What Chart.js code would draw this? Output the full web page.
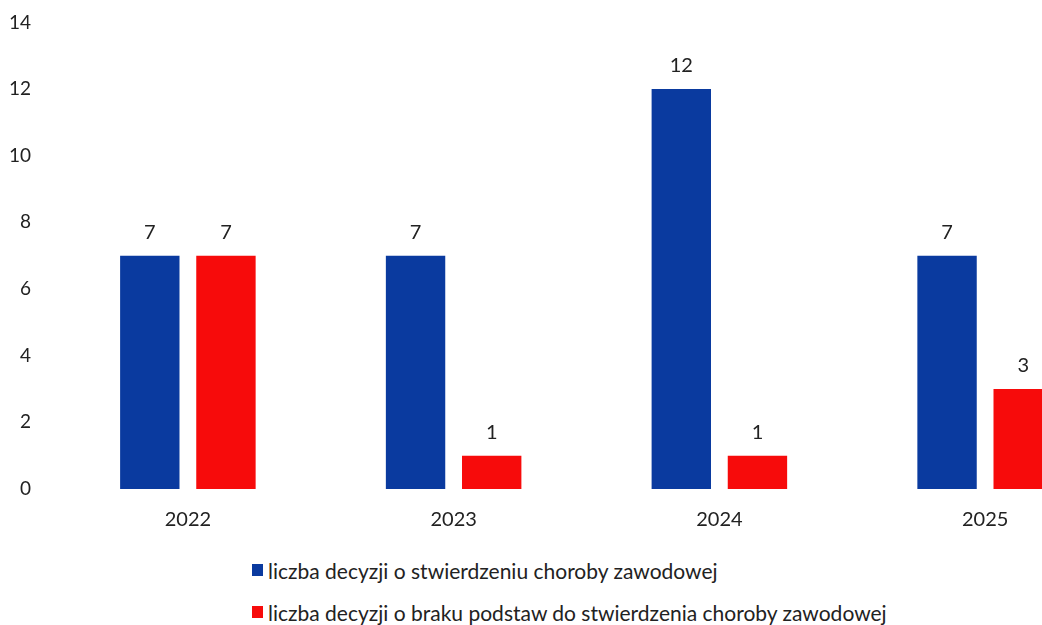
<!DOCTYPE html>
<html lang="pl">
<head>
<meta charset="utf-8">
<title>Decyzje w sprawie chorób zawodowych</title>
<script src="https://cdn.jsdelivr.net/npm/chart.js@4/dist/chart.umd.min.js"></script>
<style>
    html, body {
        margin: 0;
        padding: 0;
        background: #ffffff;
        overflow: hidden;
        width: 1042px;
        height: 625px;
    }
    #wrap {
        position: absolute;
        left: 0;
        top: -13px;
        width: 1118px;
        height: 558px;
    }
    #legend {
        position: absolute;
        left: 252px;
        top: 549px;
        font-family: Lato, "Open Sans", sans-serif;
        font-size: 21px;
        color: #222222;
    }
    .legend-row {
        display: flex;
        align-items: center;
        height: 42px;
        white-space: nowrap;
    }
    .legend-box {
        width: 11px;
        height: 12px;
        margin-right: 5px;
    }
</style>
</head>
<body>
<div id="wrap"><canvas id="chart"></canvas></div>
<div id="legend"></div>
<script>
const years = ['2022', '2023', '2024', '2025'];
const confirmedLabel = 'liczba decyzji o stwierdzeniu choroby zawodowej';
const rejectedLabel = 'liczba decyzji o braku podstaw do stwierdzenia choroby zawodowej';
const confirmed = [7, 7, 12, 7];
const rejected = [7, 1, 1, 3];
const yTicks = [0, 2, 4, 6, 8, 10, 12, 14];

const blue = '#0a3a9f';
const red = '#f70b0b';
const fontFamily = 'Lato, "Open Sans", sans-serif';

// values above the bars
const valueLabels = {
    id: 'valueLabels',
    afterDatasetsDraw(chart) {
        const ctx = chart.ctx;
        ctx.save();
        ctx.font = '20px ' + fontFamily;
        ctx.fillStyle = '#222222';
        ctx.textAlign = 'center';
        ctx.textBaseline = 'alphabetic';
        chart.data.datasets.forEach((ds, i) => {
            chart.getDatasetMeta(i).data.forEach((bar, j) => {
                ctx.fillText(ds.data[j], bar.x, bar.y - 17);
            });
        });
        ctx.restore();
    }
};

const chart = new Chart(document.getElementById('chart'), {
    type: 'bar',
    data: {
        labels: years,
        datasets: [{
            label: confirmedLabel,
            data: confirmed,
            backgroundColor: blue,
            borderWidth: 0
        }, {
            label: rejectedLabel,
            data: rejected,
            backgroundColor: red,
            borderWidth: 0
        }]
    },
    options: {
        responsive: true,
        maintainAspectRatio: false,
        animation: false,
        datasets: {
            bar: {
                categoryPercentage: 0.573,
                barPercentage: 0.78
            }
        },
        layout: {
            padding: { top: 10, right: 0, bottom: 0, left: 0 }
        },
        plugins: {
            legend: { display: false },
            tooltip: { enabled: false }
        },
        scales: {
            x: {
                grid: { display: false, drawTicks: false },
                border: { display: false },
                ticks: {
                    padding: 19,
                    color: '#222222',
                    font: { family: fontFamily, size: 20 }
                },
                afterFit(scale) {
                    scale.height = 56;
                }
            },
            y: {
                min: 0,
                max: 14,
                grid: { display: false, drawTicks: false },
                border: { display: false },
                afterBuildTicks(scale) {
                    scale.ticks = yTicks.map(v => ({ value: v }));
                },
                ticks: {
                    padding: 24,
                    color: '#222222',
                    font: { family: fontFamily, size: 19 }
                },
                afterFit(scale) {
                    scale.width = 55;
                }
            }
        }
    },
    plugins: [valueLabels]
});

// legend as two stacked rows, like the original
const legendEl = document.getElementById('legend');
chart.data.datasets.forEach(ds => {
    const row = document.createElement('div');
    row.className = 'legend-row';
    const box = document.createElement('span');
    box.className = 'legend-box';
    box.style.background = ds.backgroundColor;
    const text = document.createElement('span');
    text.textContent = ds.label;
    row.appendChild(box);
    row.appendChild(text);
    legendEl.appendChild(row);
});
</script>
</body>
</html>
